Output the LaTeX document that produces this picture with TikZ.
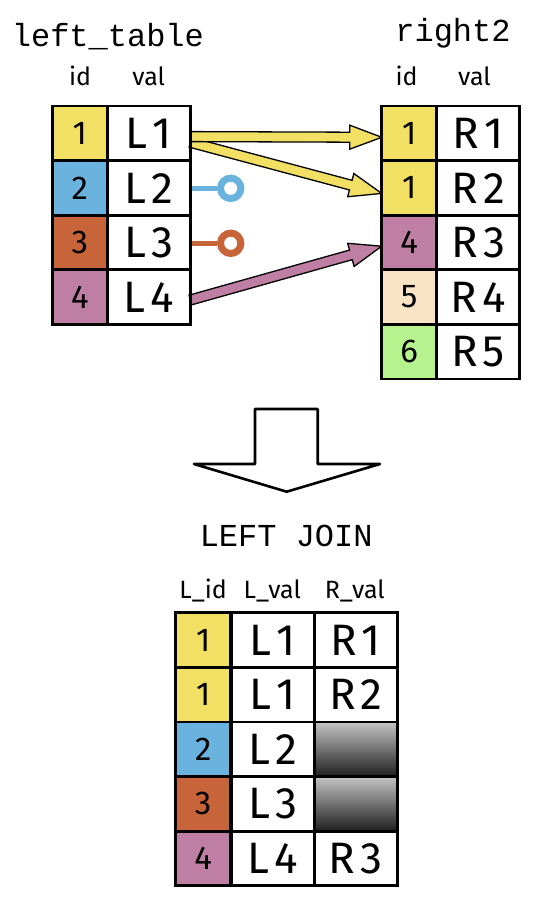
\documentclass[tikz,border=0pt]{standalone}
\usepackage{fontspec}
\setmainfont{Fira Sans}
\newfontfamily\monofont{Liberation Mono}
\usetikzlibrary{calc}
\pgfdeclarelayer{background}
\pgfsetlayers{background,main}
\definecolor{cyel}{HTML}{F2E065}
\definecolor{cblue}{HTML}{6BB3DF}
\definecolor{corange}{HTML}{C8643A}
\definecolor{cpink}{HTML}{BF7FA5}
\definecolor{cpeach}{HTML}{F9E5C6}
\definecolor{cgreen}{HTML}{B6F28E}
\definecolor{gtop}{HTML}{C4C4C4}
\definecolor{gbot}{HTML}{1E1E1E}
\newcommand\cv[2]{#1\kern5pt#2}
\newcommand\usc{\char95\relax}
\tikzset{
  cell/.style={draw=black, line width=2.8pt, minimum height=54.6pt, inner sep=0pt, outer sep=0pt},
  idcell/.style={cell, minimum width=55pt, font=\fontsize{33}{33}\selectfont},
  valcell/.style={cell, minimum width=83pt, font=\fontsize{44}{44}\selectfont},
  nullcell/.style={cell, minimum width=83pt, top color=gtop, bottom color=gbot},
  hdr/.style={anchor=base, inner sep=0pt, font=\fontsize{25}{25}\selectfont},
  ttl/.style={anchor=base, inner sep=0pt, font=\monofont\fontsize{32}{32}\selectfont},
  fat/.style={line width=1.3pt, draw=black, line join=miter},
  pinstem/.style={line width=5pt},
  pinhead/.style={circle, line width=7pt, minimum size=20.4pt, inner sep=0pt},
}
\newcommand\fatarrow[3]{%
  \path ($(#3)!32pt!(#2)$) coordinate (fah);
  \draw[fat, fill=#1] ($(#2)!5pt!90:(#3)$) -- ($(fah)!5pt!90:(#3)$) -- ($(fah)!12pt!90:(#3)$) -- (#3)
     -- ($(fah)!12pt!-90:(#3)$) -- ($(fah)!5pt!-90:(#3)$) -- ($(#2)!5pt!-90:(#3)$) -- cycle;}
\begin{document}
\begin{tikzpicture}[x=1pt,y=-1pt]
\useasboundingbox (0,0) rectangle (543,913);
% titles
\node[ttl] (tleft) at (107.9,46.7) {left\usc table};
\node[ttl] (tright) at (453,41) {right2};
% headers
\node[hdr] (hlid) at (80,85) {id};
\node[hdr] (hlval) at (148.7,85) {val};
\node[hdr] (hrid) at (406.5,85) {id};
\node[hdr] (hrval) at (474.5,85) {val};
% left table
\node[idcell, fill=cyel] (l1i) at (79.8,133.3) {1};
\node[valcell] (l1v) at (148.9,133.3) {\cv L1};
\node[idcell, fill=cblue] (l2i) at (79.8,187.9) {2};
\node[valcell] (l2v) at (148.9,187.9) {\cv L2};
\node[idcell, fill=corange] (l3i) at (79.8,242.5) {3};
\node[valcell] (l3v) at (148.9,242.5) {\cv L3};
\node[idcell, fill=cpink] (l4i) at (79.8,297.1) {4};
\node[valcell] (l4v) at (148.9,297.1) {\cv L4};
% right table
\node[idcell, fill=cyel] (r1i) at (409.2,133.3) {1};
\node[valcell] (r1v) at (478.2,133.3) {\cv R1};
\node[idcell, fill=cyel] (r2i) at (409.2,187.9) {1};
\node[valcell] (r2v) at (478.2,187.9) {\cv R2};
\node[idcell, fill=cpink] (r3i) at (409.2,242.5) {4};
\node[valcell] (r3v) at (478.2,242.5) {\cv R3};
\node[idcell, fill=cpeach] (r4i) at (409.2,297.1) {5};
\node[valcell] (r4v) at (478.2,297.1) {\cv R4};
\node[idcell, fill=cgreen] (r5i) at (409.2,351.7) {6};
\node[valcell] (r5v) at (478.2,351.7) {\cv R5};
% arrows
\coordinate (y1s) at ($(l1v.east)+(0,3.3)$);
\coordinate (y1e) at ($(r1i.west)+(0,4)$);
\coordinate (y2s) at ($(l1v.east)+(0,9)$);
\coordinate (y2e) at ($(r2i.west)+(0,5.5)$);
\coordinate (p4s) at ($(l4v.east)+(0,2.9)$);
\coordinate (p4e) at ($(r3i.west)+(0,3.7)$);
\begin{pgfonlayer}{background}
\fatarrow{cyel}{y2s}{y2e}
\fatarrow{cyel}{y1s}{y1e}
\fatarrow{cpink}{p4s}{p4e}
\end{pgfonlayer}
% lollipops
\node[pinhead, draw=cblue] (bpin) at ($(l2v.east)+(40.3,0.4)$) {};
\node[pinhead, draw=corange] (opin) at ($(l3v.east)+(40.3,0.8)$) {};
\begin{pgfonlayer}{background}
\draw[pinstem, cblue] (l2v.east |- bpin) -- (bpin.west);
\draw[pinstem, corange] (l3v.east |- opin) -- (opin.west);
\end{pgfonlayer}
% down arrow
\draw[line width=2.6pt, line join=round] (255,409) coordinate (dtopl) -- (317.7,409) -- (317.7,464) -- (380,464)
   -- (286.7,491.7) coordinate (dtip) -- (194,464) -- (255,464) -- cycle;
\node[ttl] (tjoin) at (286.2,546.7) {LEFT JOIN};
% result headers
\node[hdr] (hxid) at (203.2,598.3) {L\usc id};
\node[hdr] (hxlv) at (272.2,598.3) {L\usc val};
\node[hdr] (hxrv) at (354.8,598.3) {R\usc val};
% result table
\node[idcell, fill=cyel] (x1i) at (203.2,640) {1};
\node[valcell] (x1l) at (272.7,640) {\cv L1};
\node[valcell] (x1r) at (355.7,640) {\cv R1};
\node[idcell, fill=cyel] (x2i) at (203.2,694.6) {1};
\node[valcell] (x2l) at (272.7,694.6) {\cv L1};
\node[valcell] (x2r) at (355.7,694.6) {\cv R2};
\node[idcell, fill=cblue] (x3i) at (203.2,749.2) {2};
\node[valcell] (x3l) at (272.7,749.2) {\cv L2};
\node[nullcell] (x3r) at (355.7,749.2) {};
\node[idcell, fill=corange] (x4i) at (203.2,803.8) {3};
\node[valcell] (x4l) at (272.7,803.8) {\cv L3};
\node[nullcell] (x4r) at (355.7,803.8) {};
\node[idcell, fill=cpink] (x5i) at (203.2,858.4) {4};
\node[valcell] (x5l) at (272.7,858.4) {\cv L4};
\node[valcell] (x5r) at (355.7,858.4) {\cv R3};
\end{tikzpicture}
\end{document}
